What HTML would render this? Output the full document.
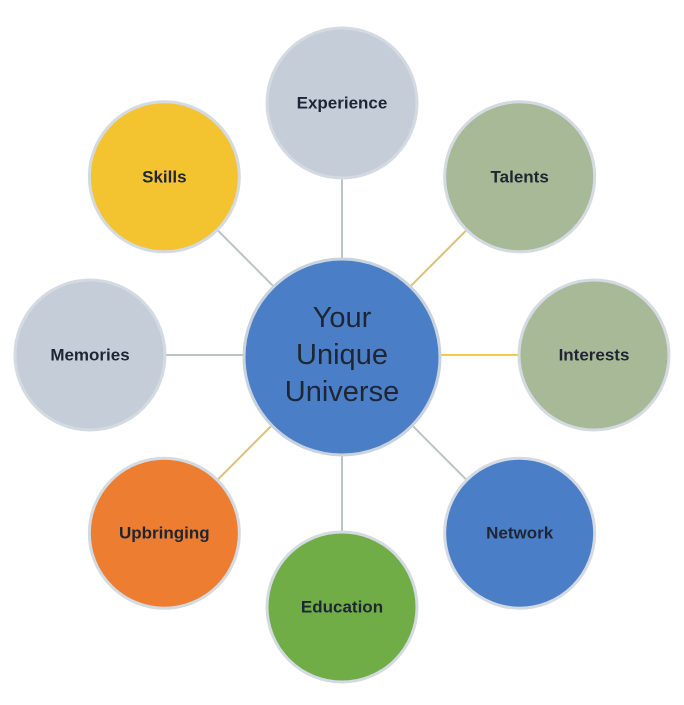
<!DOCTYPE html>
<html><head><meta charset="utf-8"><style>
body{margin:0;background:#fff;width:684px;height:700px;overflow:hidden}
svg text{font-family:"Liberation Sans",sans-serif;fill:#1e2633;text-anchor:middle;dominant-baseline:central}
</style></head><body>
<svg width="684" height="700">
<g id="links"></g><g id="nodes"></g>
<g>
<circle cx="342" cy="357" r="98" fill="#4a7fc8" stroke="#c9d3dd" stroke-width="3"/>
<text x="342" y="318" font-size="29">Your</text>
<text x="342" y="355" font-size="29">Unique</text>
<text x="342" y="392" font-size="29">Universe</text>
</g>
</svg>
<script>
const labels=["Experience","Talents","Interests","Network","Education","Upbringing","Memories","Skills"];
const fills=["#c5cdd8","#a7b996","#a7b996","#4a7fc8","#70ad47","#ed7d31","#c5cdd8","#f4c430"];
const lineColors=["#b9c6bf","#d8c27a","#f2c94c","#b9c6bf","#b9c6bf","#d8c27a","#b9c6bf","#b9c6bf"];
const ns="http://www.w3.org/2000/svg",cx=342,cy=355,R=252;
const L=document.getElementById('links'),N=document.getElementById('nodes');
labels.forEach((t,i)=>{
 const a=-Math.PI/2+i*Math.PI/4,x=cx+R*Math.cos(a)*(i%2?0.705/0.7071:1),y=cy+R*Math.sin(a);
 const ln=document.createElementNS(ns,'line');
 
 
 ln.setAttribute('x1',cx);ln.setAttribute('y1',cy);ln.setAttribute('x2',x);ln.setAttribute('y2',y);
 ln.setAttribute('stroke',lineColors[i]);ln.setAttribute('stroke-width','2');L.appendChild(ln);
 const g=document.createElementNS(ns,'g');
 
 
 const c=document.createElementNS(ns,'circle');
 c.setAttribute('cx',x);c.setAttribute('cy',y);c.setAttribute('r',75);c.setAttribute('fill',fills[i]);
 c.setAttribute('stroke','#d3dae2');c.setAttribute('stroke-width','3');g.appendChild(c);
 const tx=document.createElementNS(ns,'text');
 tx.setAttribute('x',x);tx.setAttribute('y',y);tx.setAttribute('font-size','17');tx.setAttribute('font-weight','bold');
 tx.textContent=t;g.appendChild(tx);N.appendChild(g);
});
</script>
</body></html>
